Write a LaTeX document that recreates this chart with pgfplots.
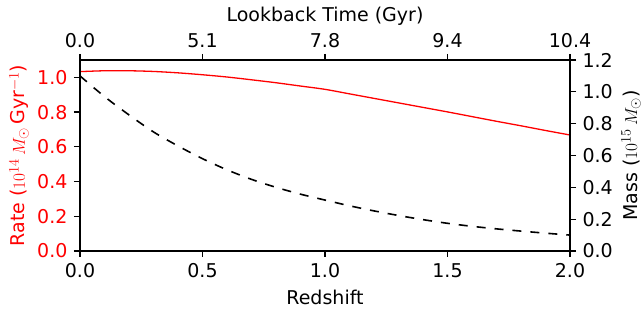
\documentclass[border=0pt]{standalone}
\usepackage{fontspec}
\setmainfont{DejaVu Sans}
\usepackage{pgfplots}
\pgfplotsset{compat=1.18}
\begin{document}
\fontsize{19}{23}\selectfont
\begin{tikzpicture}
\pgfplotsset{every axis/.append style={
  scale only axis, width=490pt, height=191pt, xmin=0, xmax=2,
  axis line style={line width=1.7pt},
  every tick/.style={line width=1.2pt, black},
  major tick length=6pt, tick align=outside,
  /pgf/number format/assume math mode=true,
  /pgf/number format/fixed,
  /pgf/number format/fixed zerofill,
  /pgf/number format/precision=1,
  font=\fontsize{19}{23}\selectfont,
  label style={font=\fontsize{19}{23}\selectfont, inner sep=0pt},
}}
\begin{axis}[name=main,
  ymin=0, ymax=1.1,
  xtick={0,0.5,1,1.5,2},
  ytick={0,0.2,0.4,0.6,0.8,1.0},
  xtick pos=left, ytick pos=left,
  yticklabel style={red},
  xlabel={Redshift},
  xlabel style={at={([yshift=-54pt]rel axis cs:0.5,0)}, anchor=base},
  ylabel={Rate ($10^{14}\,M_\odot$\,Gyr$^{-1}$)},
  ylabel style={red, at={([xshift=-55pt]rel axis cs:0,0.5)}, anchor=base},
]
\addplot[red, line width=1.3pt, smooth] coordinates {
(0.0,1.033) (0.1,1.038) (0.2,1.038) (0.3,1.034) (0.4,1.026) (0.5,1.015)
(0.6,1.002) (0.7,0.986) (0.8,0.969) (0.9,0.950) (1.0,0.931)
(1.1,0.905) (1.2,0.879) (1.3,0.853) (1.4,0.827) (1.5,0.801)
(1.6,0.774) (1.7,0.747) (1.8,0.721) (1.9,0.694) (2.0,0.668)
};
\end{axis}
\begin{axis}[
  ymin=0, ymax=1.2,
  xtick={0,0.5,1,1.5,2},
  xticklabels={0.0,5.1,7.8,9.4,10.4},
  ytick={0,0.2,0.4,0.6,0.8,1.0,1.2},
  xtick pos=right, ytick pos=right,
  xticklabel pos=right, yticklabel pos=right,
  xlabel={Lookback Time (Gyr)},
  xlabel style={at={([yshift=38pt]rel axis cs:0.5,1)}, anchor=base},
  ylabel={Mass ($10^{15}\,M_\odot$)},
  ylabel style={at={([xshift=67pt]rel axis cs:1,0.5)}, anchor=base},
]
\addplot[black, line width=1.6pt, dash pattern=on 9pt off 9pt, smooth] coordinates {
(0.0,1.10) (0.1,0.97) (0.2,0.855) (0.3,0.748) (0.4,0.66) (0.5,0.58)
(0.6,0.51) (0.7,0.45) (0.8,0.40) (0.9,0.357) (1.0,0.320)
(1.1,0.284) (1.2,0.252) (1.3,0.223) (1.4,0.197) (1.5,0.174)
(1.6,0.155) (1.7,0.139) (1.8,0.125) (1.9,0.112) (2.0,0.100)
};
\end{axis}
\path ([shift={(-80pt,-61pt)}]main.south west) rectangle ([shift={(71pt,60pt)}]main.north east);
\end{tikzpicture}
\end{document}
